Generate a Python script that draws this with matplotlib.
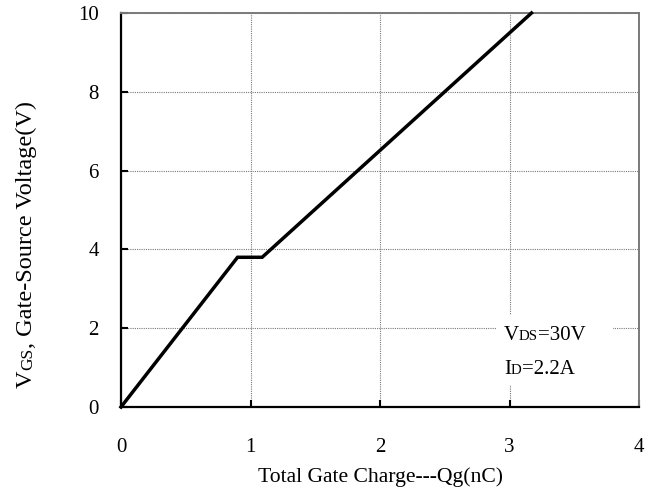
import math

import matplotlib
matplotlib.use("Agg")
import matplotlib.pyplot as plt
import matplotlib.transforms as mtransforms
from matplotlib.patches import Rectangle

# Gate charge curve: V_GS versus total gate charge Qg
charge_nc = [0.0, 0.90, 1.09, 3.17]
vgs_v = [0.0, 3.8, 3.8, 10.0]

x_ticks = [0, 1, 2, 3, 4]
y_ticks = [0, 2, 4, 6, 8, 10]
x_tick_labels = ["0", "1", "2", "3", "4"]
y_tick_labels = ["0", "2", "4", "6", "8", "10"]

SERIF = "Liberation Serif"
BIG = 15
SMALL = 10.7
GRID_GREY = "#7a7a7a"

fig = plt.figure(figsize=(6.52, 4.95), dpi=100)
ax = fig.add_axes([121 / 652, 88 / 495, 518 / 652, 394 / 495])

ax.plot(charge_nc, vgs_v, color="black", linewidth=2.5, solid_joinstyle="miter",
        zorder=3, clip_on=False)

ax.set_xlim(0, 4)
ax.set_ylim(0, 10)
ax.set_xticks(x_ticks)
ax.set_yticks(y_ticks)
ax.set_xticklabels(x_tick_labels, family=SERIF, fontsize=BIG)
ax.set_yticklabels(y_tick_labels, family=SERIF, fontsize=BIG)
ax.tick_params(axis="x", direction="in", length=5, width=1.5, pad=22, color="black")
ax.tick_params(axis="y", direction="in", length=5, width=1.5, pad=16, color="black")

ax.set_axisbelow(True)
ax.grid(True, color=GRID_GREY, linestyle=(0, (1, 1)), linewidth=0.8)

for side in ("left", "bottom"):
    ax.spines[side].set_linewidth(1.6)
    ax.spines[side].set_color("black")
for side in ("top", "right"):
    ax.spines[side].set_linewidth(1.4)
    ax.spines[side].set_color(GRID_GREY)
    ax.spines[side].set_linestyle((0, (1, 1)))

# white panel behind the test-condition note
ax.add_patch(Rectangle((2.90, 0.56), 0.90, 1.78, facecolor="white",
                       edgecolor="none", zorder=1.5))

renderer = fig.canvas.get_renderer()


def rich_text(pieces, x, y, transform, rotation=0):
    """Draw consecutive text runs of different sizes on one baseline."""
    ang = math.radians(rotation)
    advance = 0.0
    for txt, size in pieces:
        probe = fig.text(0, 0, txt, family=SERIF, fontsize=size)
        width = probe.get_window_extent(renderer).width
        probe.remove()
        tr = mtransforms.offset_copy(transform, fig=fig,
                                     x=advance * math.cos(ang),
                                     y=advance * math.sin(ang), units="dots")
        fig.text(x, y, txt, family=SERIF, fontsize=size, ha="left",
                 va="baseline", rotation=rotation, rotation_mode="anchor",
                 transform=tr, zorder=4)
        advance += width


rich_text([("V", BIG), ("DS", SMALL), ("=30V", BIG)], 2.957, 1.70, ax.transData)
rich_text([("I", BIG), ("D", SMALL), ("=2.2A", BIG)], 2.957, 0.84, ax.transData)

# axis titles
fig.text(380 / 652, 13 / 495, "Total Gate Charge---Qg(nC)", family=SERIF,
         fontsize=15.6, ha="center", va="baseline")
rich_text([("V", 17.5), ("GS", 12.5), (", Gate-Source Voltage(V)", 17.5)],
          32 / 652, 107 / 495, fig.transFigure, rotation=90)

fig.savefig("out.png", dpi=100)
